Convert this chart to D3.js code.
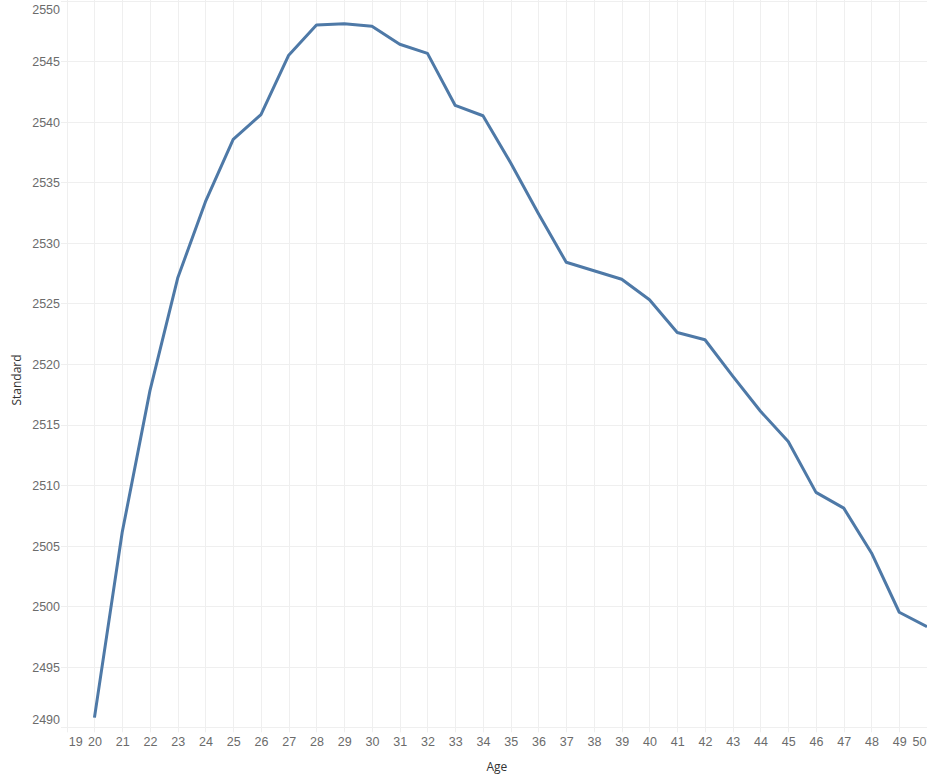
<!DOCTYPE html>
<html>
<head>
<meta charset="utf-8">
<script src="https://cdn.jsdelivr.net/npm/d3@7"></script>
<style>
  body { margin: 0; background: #fff; }
  svg { display: block; font-family: "Open Sans", "Noto Sans", sans-serif; }
</style>
</head>
<body>
<div id="chart"></div>
<script>
// ages on the x axis (one point per age)
const ages = [20, 21, 22, 23, 24, 25, 26, 27, 28, 29, 30, 31, 32, 33, 34, 35,
  36, 37, 38, 39, 40, 41, 42, 43, 44, 45, 46, 47, 48, 49, 50];

// "Standard" value per age
const standard = [2490.8, 2506.1, 2517.8, 2527.1, 2533.4, 2538.55, 2540.6, 2545.5,
  2548.0, 2548.1, 2547.9, 2546.4, 2545.65, 2541.35, 2540.5, 2536.6, 2532.4,
  2528.4, 2527.7, 2527.0, 2525.3, 2522.6, 2522.0, 2519.0, 2516.1, 2513.6,
  2509.4, 2508.1, 2504.4, 2499.5, 2498.3];

// tick labels
const xTicks = [19, 20, 21, 22, 23, 24, 25, 26, 27, 28, 29, 30, 31, 32, 33, 34,
  35, 36, 37, 38, 39, 40, 41, 42, 43, 44, 45, 46, 47, 48, 49, 50];
const yTicks = [2490, 2495, 2500, 2505, 2510, 2515, 2520, 2525, 2530, 2535,
  2540, 2545, 2550];

const W = 927, H = 782;
const plotL = 66.7, plotR = 927, plotT = 0.7, plotB = 727.3;
const gridColor = "#efefef";
const tickColor = "#6b6b6b";

const x = d3.scaleLinear().domain([19, 50]).range([plotL, plotR]);
const y = d3.scaleLinear().domain([2490, 2550]).range([plotB, plotT]);

const svg = d3.select("#chart").append("svg")
  .attr("width", W)
  .attr("height", H);

// ---- grid ----
const grid = svg.append("g");
grid.selectAll("line.v")
  .data(xTicks)
  .join("line")
  .attr("class", "v")
  .attr("x1", d => Math.round(x(d)) + 0.5)
  .attr("x2", d => Math.round(x(d)) + 0.5)
  .attr("y1", 0)
  .attr("y2", plotB + 5)
  .attr("stroke", gridColor)
  .attr("stroke-width", 1);

grid.selectAll("line.h")
  .data(yTicks)
  .join("line")
  .attr("class", "h")
  .attr("x1", 61)
  .attr("x2", W)
  .attr("y1", d => Math.round(y(d)) + 0.5)
  .attr("y2", d => Math.round(y(d)) + 0.5)
  .attr("stroke", gridColor)
  .attr("stroke-width", 1);

// ---- y axis labels ----
const yAxis = svg.append("g")
  .attr("transform", "translate(60,0)")
  .call(d3.axisLeft(y).tickValues(yTicks).tickSize(0).tickPadding(0).tickFormat(d3.format("d")));
yAxis.select(".domain").remove();
yAxis.selectAll("text")
  .attr("fill", tickColor)
  .attr("font-size", 12.5)
  .attr("dy", d => d === 2550 ? "1.05em" : d === 2490 ? "-0.3em" : "0.35em");

// ---- x axis labels ----
const xAxis = svg.append("g")
  .attr("transform", `translate(0,${plotB})`)
  .call(d3.axisBottom(x).tickValues(xTicks).tickSize(0).tickPadding(10).tickFormat(d3.format("d")));
xAxis.select(".domain").remove();
xAxis.selectAll("text")
  .attr("fill", tickColor)
  .attr("font-size", 12.5)
  .attr("text-anchor", d => d === 19 ? "start" : d === 50 ? "end" : "middle")
  .attr("dx", d => d === 19 ? 1.5 : d === 50 ? -1 : 0);

// ---- line ----
const line = d3.line()
  .x((d, i) => x(ages[i]))
  .y(d => y(d));

svg.append("path")
  .datum(standard)
  .attr("fill", "none")
  .attr("stroke", "#4e79a7")
  .attr("stroke-width", 3)
  .attr("stroke-linejoin", "round")
  .attr("d", line);

// ---- axis titles ----
svg.append("text")
  .attr("x", (plotL + plotR) / 2)
  .attr("y", 771)
  .attr("text-anchor", "middle")
  .attr("fill", "#333")
  .attr("font-size", 12)
  .text("Age");

svg.append("text")
  .attr("transform", "translate(21,380) rotate(-90)")
  .attr("text-anchor", "middle")
  .attr("fill", "#333")
  .attr("font-size", 12)
  .text("Standard");
</script>
</body>
</html>
